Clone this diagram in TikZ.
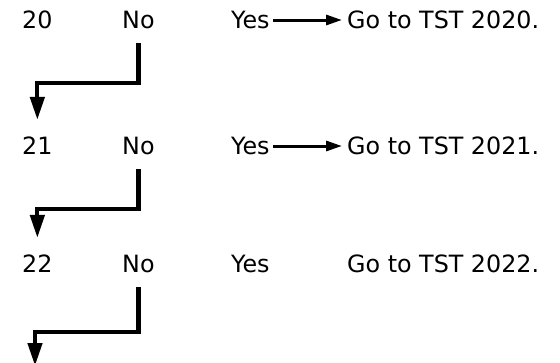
\documentclass[tikz,border=0pt]{standalone}
\usepackage{fontspec}
\setmainfont{DejaVu Sans}
\usetikzlibrary{arrows.meta}

\begin{document}
\begin{tikzpicture}[x=1pt,y=-1pt,line join=miter]
	
	\tikzstyle{every node}=[font=\fontsize{23.8}{28}\selectfont,anchor=west,inner sep=0pt]
	
	\tikzstyle{flow}=[line width=4.3pt,-{Triangle[length=23pt,width=14pt]}]
	\tikzstyle{yes arrow}=[line width=3pt,-{Triangle[length=16pt,width=10pt]},shorten <=3pt,shorten >=5pt]
	
	\useasboundingbox (0,0) rectangle (560,362);
	
	\node (T20)   at (22,20)  {20};
	\node (No20)  at (122,20) {No};
	\node (Yes20) at (231,20) {Yes};
	\node (Go20)  at (347,20) {Go to TST 2020.};
	
	\node (T21)   at (22,146)  {21};
	\node (No21)  at (122,146) {No};
	\node (Yes21) at (231,146) {Yes};
	\node (Go21)  at (347,146) {Go to TST 2021.};
	
	\node (T22)   at (22,264)  {22};
	\node (No22)  at (122,264) {No};
	\node (Yes22) at (231,264) {Yes};
	\node (Go22)  at (347,264) {Go to TST 2022.};
	
	\coordinate (B20) at (0,83);
	\coordinate (B21) at (0,209);
	\coordinate (B22) at (0,332);
	\coordinate (E22) at (35,366);
	
	\path (Yes20) edge [yes arrow] (Go20)
	(Yes21) edge [yes arrow] (Go21);
	
	\draw[flow,shorten <=14pt,shorten >=17pt] (No20.south) -- (No20.south |- B20) -| (T21.north);
	\draw[flow,shorten <=14pt,shorten >=17pt] (No21.south) -- (No21.south |- B21) -| (T22.north);
	\draw[flow,shorten <=14pt] (No22.south) -- (No22.south |- B22) -| (E22);
	
\end{tikzpicture}
\end{document}
